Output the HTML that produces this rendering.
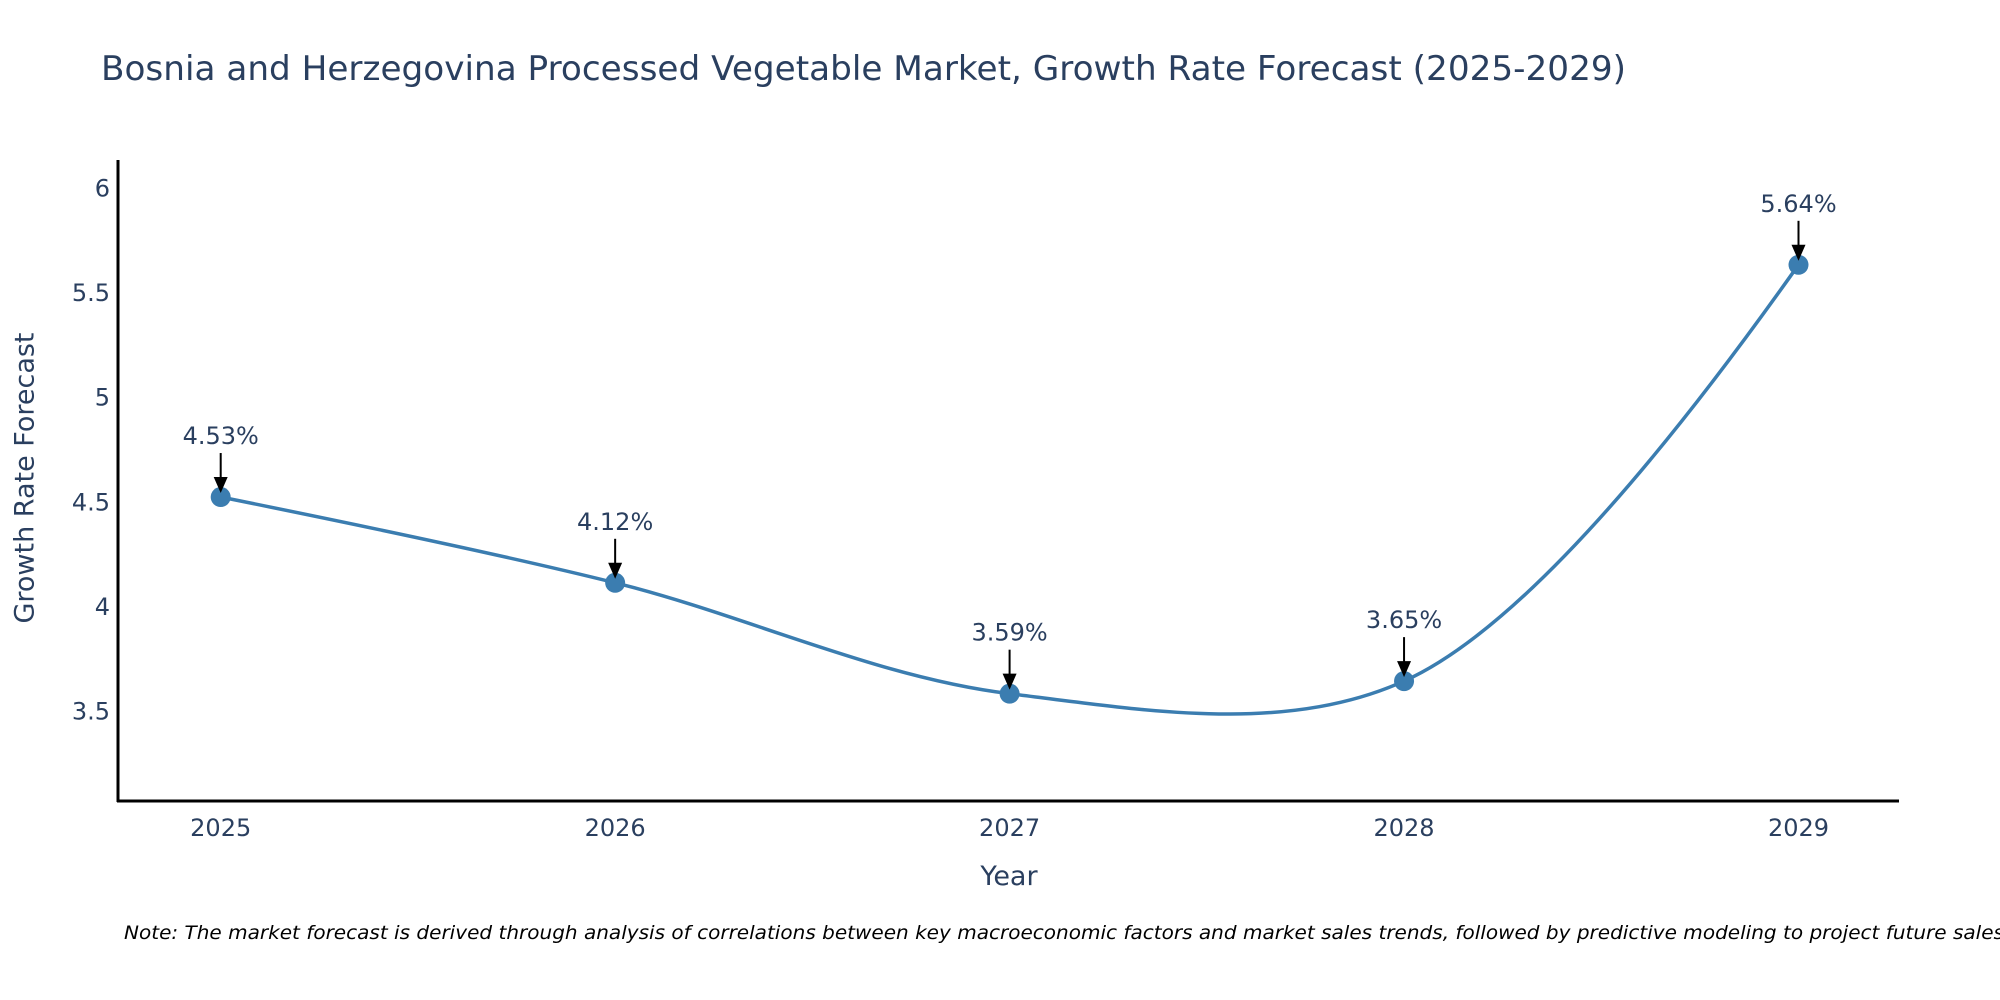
<!DOCTYPE html>
<html><head><meta charset="utf-8"><style>
html,body{margin:0;padding:0;background:#fff;}
svg{display:block;font-family:"DejaVu Sans","Liberation Sans",sans-serif;}
</style></head><body>
<svg id="chart" width="2000" height="1000" viewBox="0 0 2000 1000">
<text x="101" y="80" font-size="34" fill="#2a3f5f" textLength="1525" lengthAdjust="spacingAndGlyphs">Bosnia and Herzegovina Processed Vegetable Market, Growth Rate Forecast (2025-2029)</text>
<g id="yticks"></g>
<g id="xticks"></g>
<line x1="118" y1="160" x2="118" y2="802" stroke="#000" stroke-width="3"/>
<line x1="117" y1="801" x2="1899" y2="801" stroke="#000" stroke-width="3"/>
<text x="26" y="478" font-size="27" fill="#2a3f5f" text-anchor="middle" transform="rotate(-90 26 478)" dominant-baseline="middle">Growth Rate Forecast</text>
<text x="1009" y="885" font-size="27" fill="#2a3f5f" text-anchor="middle">Year</text>
<path id="line" fill="none" stroke="#3b7db0" stroke-width="3.5"/>
<g id="marks"></g>
<g id="annots"></g>
<text x="124" y="939" font-size="19" font-style="italic" fill="#000" textLength="1880" lengthAdjust="spacingAndGlyphs">Note: The market forecast is derived through analysis of correlations between key macroeconomic factors and market sales trends, followed by predictive modeling to project future sales</text>
</svg>
<script>
const years = [2025, 2026, 2027, 2028, 2029];
const growth = [4.53, 4.12, 3.59, 3.65, 5.64];
const labels = ["4.53%", "4.12%", "3.59%", "3.65%", "5.64%"];
const yTickVals = [3.5, 4, 4.5, 5, 5.5, 6];
const yTickText = ["3.5", "4", "4.5", "5", "5.5", "6"];

const NS = "http://www.w3.org/2000/svg";
const X0 = 2025, X1 = 2029, PX0 = 220.7, PX1 = 1798.5;
const Y0 = 3.5, Y1 = 6, PY0 = 712.5, PY1 = 189.5;
function xs(v){ return PX0 + (v - X0) / (X1 - X0) * (PX1 - PX0); }
function ys(v){ return PY0 + (v - Y0) / (Y1 - Y0) * (PY1 - PY0); }
function mk(tag, attrs, parent){ const e = document.createElementNS(NS, tag); for (const k in attrs) e.setAttribute(k, attrs[k]); parent.appendChild(e); return e; }

const yt = document.getElementById('yticks');
yTickVals.forEach((v, i) => {
  const t = mk('text', {x: 110, y: ys(v) + 7, 'font-size': 24, fill: '#2a3f5f', 'text-anchor': 'end'}, yt);
  
  
  t.textContent = yTickText[i];
});
const xt = document.getElementById('xticks');
years.forEach(y => {
  const t = mk('text', {x: xs(y), y: 836, 'font-size': 24, fill: '#2a3f5f', 'text-anchor': 'middle'}, xt);
  
  
  t.textContent = String(y);
});

const pts = years.map((y, i) => [xs(y), ys(growth[i])]);
function tangent(p0, p1, p2){
  const dx1 = p0[0]-p1[0], dy1 = p0[1]-p1[1], dx2 = p2[0]-p1[0], dy2 = p2[1]-p1[1];
  const d1a = Math.pow(dx1*dx1+dy1*dy1, 0.25), d2a = Math.pow(dx2*dx2+dy2*dy2, 0.25);
  const numx = (d2a*d2a*dx1 - d1a*d1a*dx2), numy = (d2a*d2a*dy1 - d1a*d1a*dy2);
  const den1 = 3*d2a*(d1a+d2a), den2 = 3*d1a*(d1a+d2a);
  return [[p1[0] + numx/den1, p1[1] + numy/den1], [p1[0] - numx/den2, p1[1] - numy/den2]];
}
const tg = [];
for (let i = 1; i < pts.length - 1; i++) tg.push(tangent(pts[i-1], pts[i], pts[i+1]));
const f = p => p[0].toFixed(2) + ',' + p[1].toFixed(2);
let d = 'M' + f(pts[0]) + 'Q' + f(tg[0][0]) + ' ' + f(pts[1]);
for (let i = 2; i < pts.length - 1; i++) d += 'C' + f(tg[i-2][1]) + ' ' + f(tg[i-1][0]) + ' ' + f(pts[i]);
d += 'Q' + f(tg[tg.length-1][1]) + ' ' + f(pts[pts.length-1]);
document.getElementById('line').setAttribute('d', d);

const mg = document.getElementById('marks');
const ag = document.getElementById('annots');
pts.forEach((p, i) => {
  const c = mk('circle', {cx: p[0], cy: p[1], r: 10, fill: '#3b7db0'}, mg);
  
  
  const l = mk('line', {x1: p[0], y1: p[1] - 44, x2: p[0], y2: p[1] - 18, stroke: '#000', 'stroke-width': 2}, ag);
  
  
  const h = mk('polygon', {points: (p[0]-7)+','+(p[1]-20)+' '+(p[0]+7)+','+(p[1]-20)+' '+p[0]+','+(p[1]-4), fill: '#000'}, ag);
  
  
  const t = mk('text', {x: p[0], y: p[1] - 53, 'font-size': 24, fill: '#2a3f5f', 'text-anchor': 'middle'}, ag);
  
  
  t.textContent = labels[i];
});
</script>
</body></html>
